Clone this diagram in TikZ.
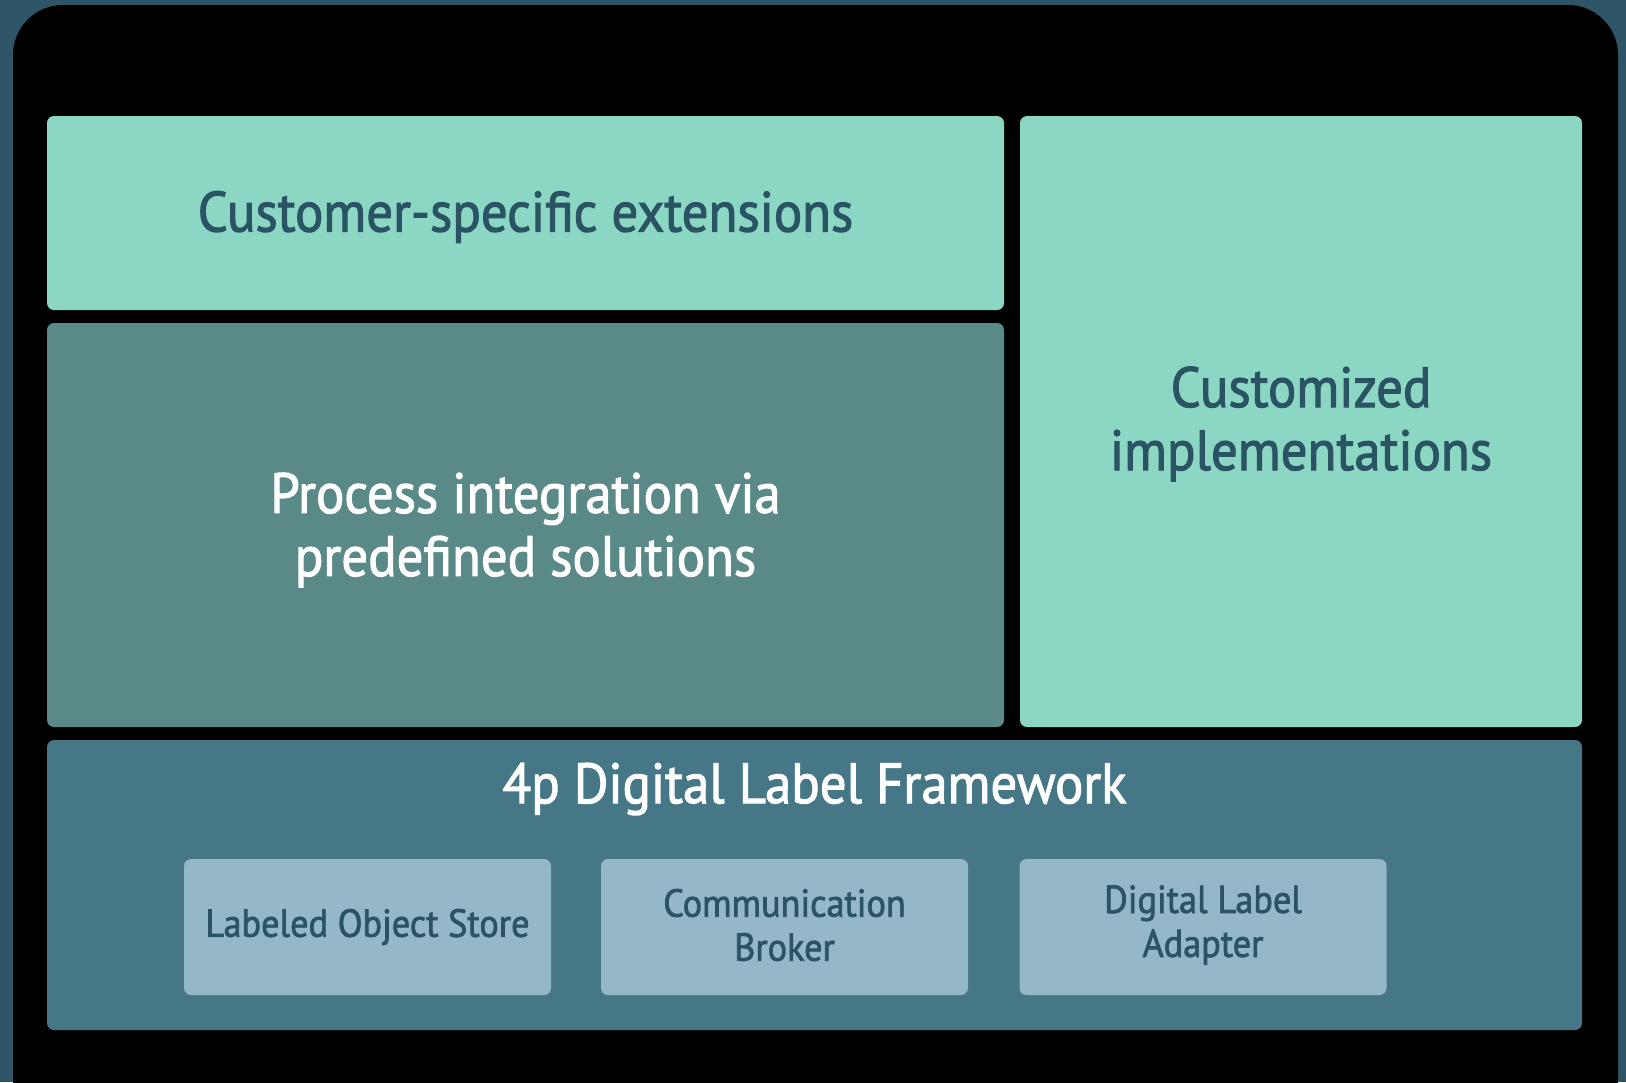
\documentclass[tikz,border=0pt]{standalone}
\usepackage{fontspec}
\setmainfont{PT Sans}[FakeStretch=0.93, FakeBold=1.8]
\definecolor{outerbg}{HTML}{2D5566}
\definecolor{mint}{HTML}{8CD7C3}
\definecolor{procc}{HTML}{5A8A87}
\definecolor{fwc}{HTML}{467787}
\definecolor{smallc}{HTML}{94B8C8}
\definecolor{darktext}{HTML}{2A5364}
\begin{document}
\begin{tikzpicture}[x=0.5pt,y=-0.5pt,
  boxbase/.style={draw=none, rounded corners=3.5pt, inner sep=0pt, align=center},
  bigtext/.style={font=\fontsize{28.4pt}{31.5pt}\selectfont},
  smalltext/.style={font=\fontsize{19.5pt}{22pt}\selectfont},
  mintbox/.style={boxbase, fill=mint, text=darktext, bigtext},
  smallbox/.style={boxbase, fill=smallc, minimum width=183.5pt, minimum height=68pt},
  smalllabel/.style={text=darktext, smalltext, inner sep=0pt, align=center}]
\useasboundingbox (0,0) rectangle (1626,1082);
\fill[outerbg] (0,0) rectangle (1626,1082);
\begin{scope}
\clip (0,0) rectangle (1626,1082);
\fill[black, rounded corners=25pt] (13,5) rectangle (1618,1200);
\end{scope}
\node[mintbox, minimum width=478.5pt, minimum height=97pt] (ext) at (525.5,213) {};
\node[text=darktext, bigtext, inner sep=0pt, align=center] (extt) at (525.5,217) {Customer-specific extensions};
\node[boxbase, fill=procc, minimum width=478.5pt, minimum height=202pt] (proc) at (525.5,525) {};
\node[text=white, bigtext, inner sep=0pt, align=center] (proct) at (525.5,530) {Process integration via\\predefined solutions};
\node[mintbox, minimum width=281pt, minimum height=305.5pt] (cust) at (1301,421.5) {};
\node[text=darktext, bigtext, inner sep=0pt, align=center] (custt) at (1301,424) {Customized\\implementations};
\node[boxbase, fill=fwc, minimum width=767.5pt, minimum height=145pt] (fw) at (814.5,885) {};
\node[text=white, bigtext, inner sep=0pt] (fwtitle) at (814.5,789) {4p Digital Label Framework};
\node[smallbox] (los) at (367.5,927) {};
\node[smalllabel] (lost) at (367.5,927) {Labeled Object Store};
\node[smallbox] (cb) at (784.5,927) {};
\node[smalllabel] (cbt) at (784.5,925) {Communication\\Broker};
\node[smallbox] (dla) at (1203,927) {};
\node[smalllabel] (dlat) at (1203,925) {Digital Label\\Adapter};
\end{tikzpicture}
\end{document}
